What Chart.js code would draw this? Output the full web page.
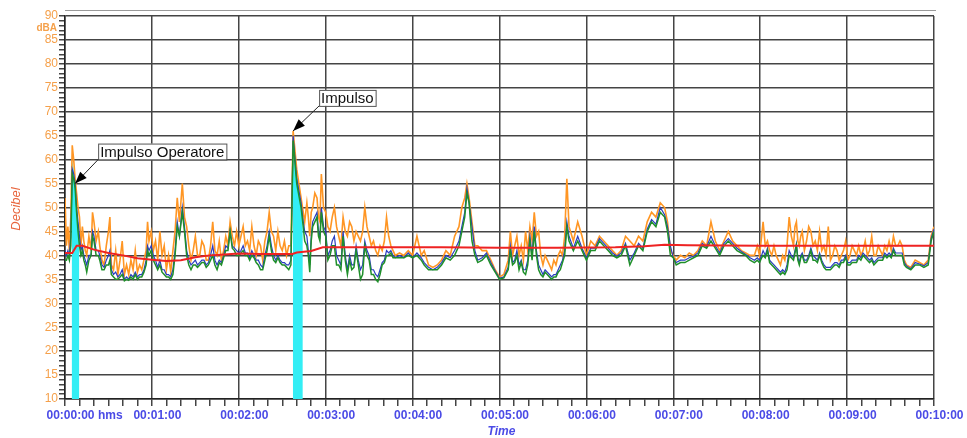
<!DOCTYPE html>
<html>
<head>
<meta charset="utf-8">
<script src="https://cdn.jsdelivr.net/npm/chart.js@4.4.1/dist/chart.umd.min.js"></script>
<style>
  body { margin: 0; background: #fff; }
  #wrap { width: 967px; height: 438px; position: relative; }
</style>
</head>
<body>
<div id="wrap"><canvas id="myChart"></canvas></div>
<script>
// Sound level over 10 minutes (seconds, dB)

const times = [
    0, 1, 2, 3, 4, 5, 6, 7, 8, 9, 10, 11, 12, 13, 14, 15, 16.5, 18, 19, 20, 21.5, 23, 24, 25.5, 27, 28.5, 30, 31, 32, 33.5,
    35, 36.5, 38, 39.5, 41, 42.5, 44, 45.5, 47, 48.5, 50, 51.5, 53, 54.5, 56, 57, 58, 59.5, 61, 62.5,
    64, 65.5, 67, 68.5, 70, 71.5, 73, 74.5, 76, 77.5, 79, 81,
    82.5, 84, 85.5, 87, 88.5, 90, 91.5, 93, 94.5, 96, 97.5, 99, 100.5, 102, 103.5, 105, 106.5, 108, 109.5, 111,
    112.5, 114, 115.5, 117, 118.5, 120, 121.5, 123, 124.5, 126, 127.5, 129, 130.5, 132, 133.5, 135, 136.5, 138, 139.5, 141,
    142.5, 144, 145.5, 147, 148.5, 150, 151.5, 153, 154.5, 156, 157.5,
    160, 163, 164.5, 165.5, 167, 168, 169, 170, 171, 172.5, 174, 175, 176, 177, 178.5, 180, 181.5, 183, 184.5, 186,
    187.5, 189, 190.5, 192, 193.5, 195, 196.5, 198, 199.5, 201, 202.5, 204, 205.5, 207, 208.5, 210, 211.5, 213, 214.5, 216,
    217.5, 219, 220.5, 222, 223.5, 225, 226.5,
    228, 231, 234, 237, 240, 243, 246, 248, 251, 254, 257, 260, 263, 266, 269, 272, 274, 276, 277.5, 279,
    281, 283, 285, 288, 291, 294, 297, 300, 303, 306, 307.5, 309, 310.5, 312, 313.5, 315, 316.5, 318, 319.5, 321,
    322.5, 324, 325.5, 327, 328.5, 330, 331.5, 333, 334.5, 336, 337.5, 339, 340.5, 342, 343.5, 345, 346.5, 348, 351, 354,
    357, 360, 363, 366, 369, 372, 375, 378, 381, 384, 387, 390, 393, 396, 399, 402, 405, 408, 411, 414,
    416, 418, 420, 422, 425, 428, 431, 434, 437, 440, 443, 446, 449, 452, 455, 458, 461, 464, 467, 470, 473, 476,
    478, 479.5, 481, 482, 483.5, 485, 486.5, 488, 489.5, 491, 492.5, 494, 495.5, 497, 498.5, 500, 501.5, 503, 504, 505,
    506, 507, 508, 509, 510.5, 512, 513.5, 515, 516.5, 518, 519.5, 521, 522.5, 524, 525.5, 527, 528.5, 530, 531.5, 533,
    534.5, 536, 537.5, 539, 540.5, 542, 543.5, 545, 546.5, 548, 549.5, 551, 552.5, 554, 555.5, 557, 558.5, 560, 561.5, 563,
    564.5, 566, 567.5, 569, 570.5, 572, 573.5, 575, 576.5, 578, 579.5, 581, 584, 587, 590, 593, 596, 598, 600
];

const orangeDb = [
    52, 42, 46, 41, 48, 63, 60, 56, 53, 50, 48, 42, 46, 43, 41, 40, 44, 41, 49, 47, 43, 45, 42, 39, 38, 42, 45, 48, 38, 37,
    41, 36, 39, 43, 36, 38, 36, 39, 37, 41, 36.5, 38, 37, 39, 41, 47, 43, 45, 41, 43,
    39, 45, 40, 42, 37, 40, 36.5, 41, 45, 52, 47, 55,
    48, 46, 42, 39, 41, 44, 40, 40, 43, 42, 39, 39, 42, 47, 41, 40, 43, 39, 41, 44,
    42, 47, 44, 42, 45, 42, 44, 46, 42, 43, 41, 46, 42, 40, 43, 42, 39, 43, 45, 49,
    45, 44, 41, 45, 42, 41, 43, 40, 42, 42, 66,
    58, 52, 49, 47, 51, 48, 44, 49, 50, 53, 52, 48, 47, 57, 50, 49, 46, 45, 48, 50,
    46, 44, 42, 48, 45, 44, 47, 46, 43, 45, 44, 43, 45, 50, 46, 44, 42, 43, 41, 40,
    42, 41, 43, 48, 44, 42, 41,
    40, 40.5, 40, 41, 40, 44, 40, 41, 38, 37.5, 38, 39, 41, 40, 44, 46, 50, 52, 55, 52,
    47, 42, 42, 41, 41, 39, 37, 35.5, 36, 39, 45, 40, 42, 44, 40, 42, 39, 45, 41, 46,
    43, 49, 44, 45, 40, 38, 40, 39, 38, 37, 39, 38, 40, 41, 40, 44, 56, 46, 43, 47,
    44, 40, 43, 42, 44, 43, 42, 41, 40, 41, 44, 43, 42, 44, 43, 47, 49, 48, 51, 50,
    47, 41, 40, 39, 40, 39.5, 40.5, 40, 41, 43, 42, 47, 43, 41, 43, 45, 43, 42, 41, 40.5, 40, 40,
    42, 40, 44, 47, 42, 43, 41, 40, 42, 40, 39, 38, 40, 39, 42, 48, 44, 42, 46, 47,
    43, 42, 44, 45, 41, 43, 46, 45, 42, 43, 41, 45, 41, 42, 40, 46, 39, 40, 42, 41,
    39, 40, 41, 43, 39, 40, 42, 41, 40, 42, 40, 41, 43, 40, 41, 44, 40, 40, 42, 41,
    40, 42, 41, 43, 41, 44, 42, 42, 43, 42, 39, 38, 37.5, 39, 38.5, 38, 39, 44, 46
];

const blueDb = [
    41, 40, 41, 40, 44, 58, 57, 55, 50, 47, 44, 41, 42, 40, 39, 38, 40, 40, 45, 44, 41, 41, 40, 38, 37.5, 39, 40, 41, 37, 36,
    36.5, 35.5, 36, 37, 35, 35.5, 35, 36, 35.5, 36.5, 35.5, 36, 36, 37, 39, 42, 41, 42, 40, 39,
    37.5, 39, 37, 37, 36, 36, 35.5, 37, 41, 47, 44, 50,
    46, 41, 39, 38, 38.5, 39, 38, 38.5, 39, 39, 38, 38.5, 40, 42, 39, 38, 39, 38.5, 40, 42,
    41.5, 45, 42, 41.5, 41, 40.5, 41, 42, 40.5, 40.5, 39.5, 41, 40, 39, 39, 38, 37.5, 40, 42, 45,
    42, 40, 39, 40, 39, 38.5, 38.5, 38, 38, 39, 65,
    56, 51, 47, 45, 44, 41, 38, 44, 47, 48, 49, 45, 44, 50, 46, 45, 40, 41, 43, 44,
    40, 39, 38, 45, 40, 37, 40, 38, 38, 42, 39, 37, 38, 43, 41, 40, 37, 37, 36, 35.5,
    37, 38.5, 39, 41, 40.5, 41, 40,
    39.5, 40, 39.5, 40.5, 39.5, 40.5, 39.5, 38.5, 37.5, 37, 37.5, 38.5, 40, 39.5, 41, 43, 46, 49, 54, 51,
    46, 41, 39, 39.5, 40.5, 38.5, 36.8, 35.2, 35.5, 37.5, 42, 38.5, 39, 41, 38, 39, 37, 37, 39, 44,
    40, 46, 41, 38, 37, 36, 37, 36.5, 36, 35.5, 36, 36, 37, 38, 39, 41, 47, 44, 41.5, 44,
    41.5, 39.5, 41.5, 41.5, 43.5, 42.5, 41.5, 40.5, 39.8, 40.5, 42.5, 39, 40.5, 42.5, 41.5, 45.5, 47.5, 46.5, 50, 48.5,
    46, 42, 39.5, 38.5, 39, 39, 39.5, 39.8, 40.5, 42.5, 41.8, 44, 42, 40.5, 42.5, 43.5, 42.5, 41.5, 40.8, 40.2, 39.5, 39,
    39.5, 39, 40, 41, 40, 41.5, 39, 38.5, 38, 37.5, 37, 36.5, 37, 36.5, 38, 41, 40, 39.5, 41, 42.5,
    39.5, 38.5, 40, 40.5, 39, 39, 40, 41.5, 40, 39.5, 39, 40.5, 39, 38, 37.5, 37.5, 37.5, 38, 38.5, 38.5,
    38, 39, 39, 40, 38.5, 38.5, 39, 39, 39, 40, 39.5, 40.5, 40, 39.5, 39, 39.5, 38.5, 39, 39.5, 39.5,
    39.5, 40.5, 40, 40.5, 40, 41.5, 40.5, 40.5, 40.5, 40.5, 38.5, 37.8, 37.2, 38.5, 38.2, 37.8, 38.5, 43.5, 45.5
];

const greenDb = [
    39, 39, 40, 39, 42, 57, 56, 54, 49, 45, 42, 40, 41, 39, 38, 36.5, 39, 40, 44, 43, 40, 40, 39, 37, 37, 38, 38, 39, 36, 35.5,
    35, 35, 35.5, 36, 34.7, 35, 34.8, 35.5, 35, 36, 35, 35.5, 35.5, 36.5, 38, 41, 40, 41, 39, 38,
    37, 38, 36.5, 36, 35.5, 35.5, 35, 36, 40, 46, 44, 49,
    45, 40, 38, 37, 38, 38, 37.5, 38, 38.5, 38.5, 37.5, 38, 39, 40, 38, 37, 38.5, 38, 39.5, 41,
    41, 45, 41.5, 41, 40, 40, 40.5, 41, 40, 40, 39, 40, 39.5, 38.5, 38, 37, 37, 39, 41, 44,
    41, 39, 38.5, 39.5, 38.5, 38, 38, 37.5, 37, 38, 64,
    55, 50, 46, 43, 42, 40, 36.5, 43, 46, 47, 48, 44, 43, 49, 45, 44, 39, 40, 42, 42,
    38, 38, 37, 44, 39, 36, 39, 37, 37.5, 41, 38, 35, 36, 42, 40, 39, 36, 36, 35, 34.5,
    36, 38, 38.5, 40, 40, 40.5, 39.5,
    39.5, 39.5, 39.5, 40, 39.5, 40, 39, 38, 37, 37, 37, 38, 39.5, 39, 40, 42, 45, 48, 53, 51,
    43, 40, 38.5, 39, 40, 38, 36.5, 35, 35.3, 37, 41, 38, 38.5, 40, 37, 38.5, 36.5, 36, 38, 43,
    39, 45, 40, 37, 36, 35.5, 36.5, 36, 35.5, 35, 35.5, 35.5, 36.5, 37, 38.5, 40, 46, 43, 41, 43,
    41, 39, 41, 41, 43, 42, 41, 40, 39.5, 40, 42, 38, 40, 42, 41, 45, 47, 46, 49, 48,
    45, 40, 39.5, 38, 38.5, 38.5, 39, 39.5, 40, 42, 41.5, 43, 41.5, 40, 42, 43, 42, 41, 40.5, 40, 39, 38.5,
    39, 38.5, 39.5, 40, 39.5, 41, 38.5, 38, 37.5, 37, 36.5, 36, 36.5, 36, 37, 40, 39.5, 39, 40.5, 42,
    39, 38, 39.5, 40, 38.5, 38.5, 39.5, 41, 39, 39, 38.5, 40, 38.5, 37.5, 37, 37, 37, 37.5, 38, 38,
    37.5, 38.5, 38.5, 39.5, 38, 38, 38.5, 38.5, 38.5, 39.5, 39, 40, 39.5, 39, 38.5, 39, 38, 38.5, 39, 39,
    39, 40, 39.5, 40, 39.5, 41, 40, 40, 40, 40, 38, 37.5, 37, 38, 38, 37.5, 38, 43, 45
];

// running Leq (red)
const leqTimes = [0, 5, 8, 12, 20, 30, 40, 50, 60, 70, 80, 90, 100, 110, 120, 135, 150, 157, 160, 170, 178, 190,
    220, 260, 300, 340, 380, 400, 414, 430, 480, 540, 600];
const leqDb = [40.5, 40.5, 42, 42, 41.2, 40.5, 40, 39.4, 39.1, 38.8, 39, 39.6, 40, 40.2, 40.4, 40.3, 40.3, 40.3,
    40.6, 40.9, 41.7, 41.7, 41.7, 41.7, 41.6, 41.6, 41.7, 41.9, 42.2, 42.1, 42, 42, 42];

// marked impulses (cyan)
const impulse1Times = [4.6, 5, 6, 7, 8, 9, 9.9];
const impulse1Db = [50, 60, 58, 55, 51, 47, 45];
const impulse2Times = [157.3, 157.5, 159, 160.5, 162, 163, 164.2];
const impulse2Db = [60, 66, 61, 57, 53, 50, 47];

// callouts
const notes = [
    { t: 7, db: 55, text: 'Impulso Operatore', dx: 23, dy: -24 },
    { t: 157.5, db: 66, text: 'Impulso', dx: 26, dy: -25 }
];

if (orangeDb.length !== times.length || blueDb.length !== times.length || greenDb.length !== times.length) {
    throw new Error('length mismatch ' + times.length + ' ' + orangeDb.length + ' ' + blueDb.length + ' ' + greenDb.length);
}

const FONT = '"Liberation Sans", Arial, sans-serif';
const ORANGE_TXT = '#f5a04a';
const BLUE_TXT = '#4b4be6';

function pts(xs, ys) {
    return xs.map((t, i) => ({ x: t, y: ys[i] }));
}

function hms(v) {
    const m = Math.round(v / 60);
    return '00:' + (m < 10 ? '0' + m : m) + ':00';
}

const overlay = {
    id: 'overlay',
    afterDraw(chart) {
        const { ctx, chartArea: a, scales: { x, y } } = chart;
        ctx.save();
        // thin line above the plot
        ctx.strokeStyle = '#9a9a9a';
        ctx.lineWidth = 1;
        ctx.beginPath();
        ctx.moveTo(a.left, a.top - 5.5);
        ctx.lineTo(a.right + 2, a.top - 5.5);
        ctx.stroke();

        // unit under the top label
        ctx.fillStyle = ORANGE_TXT;
        ctx.font = 'bold 10px ' + FONT;
        ctx.textAlign = 'right';
        ctx.textBaseline = 'middle';
        ctx.fillText('dBA', a.left - 8, a.top + 12);

        // "hms" after first time label
        ctx.fillStyle = BLUE_TXT;
        ctx.font = 'bold 12px ' + FONT;
        ctx.textAlign = 'left';
        ctx.fillText('hms', x.getPixelForValue(0) + 33, 416);

        // axis titles
        ctx.font = 'italic bold 12px ' + FONT;
        ctx.textAlign = 'center';
        ctx.fillText('Time', (a.left + a.right) / 2 + 2, 432);
        ctx.save();
        ctx.translate(16, 209);
        ctx.rotate(-Math.PI / 2);
        ctx.fillStyle = '#e8643c';
        ctx.font = 'italic 13px ' + FONT;
        ctx.fillText('Decibel', 0, 0);
        ctx.restore();

        // callouts with arrows
        ctx.font = '15px ' + FONT;
        ctx.textAlign = 'left';
        notes.forEach(n => {
            const px = x.getPixelForValue(n.t);
            const py = y.getPixelForValue(n.db);
            const bx = px + n.dx;
            const by = py + n.dy;
            const w = ctx.measureText(n.text).width + 4;
            const h = 16;
            ctx.fillStyle = '#fff';
            ctx.fillRect(bx, by - h, w, h);
            ctx.strokeStyle = '#555';
            ctx.lineWidth = 1;
            ctx.strokeRect(bx + 0.5, by - h + 0.5, w, h);
            ctx.fillStyle = '#111';
            ctx.fillText(n.text, bx + 2, by - h / 2 + 1);
            // arrow
            const ang = Math.atan2(py - by, px - bx);
            ctx.strokeStyle = '#222';
            ctx.beginPath();
            ctx.moveTo(bx, by);
            ctx.lineTo(px, py);
            ctx.stroke();
            ctx.fillStyle = '#000';
            ctx.beginPath();
            ctx.moveTo(px, py);
            ctx.lineTo(px - 12 * Math.cos(ang) + 4.5 * Math.sin(ang), py - 12 * Math.sin(ang) - 4.5 * Math.cos(ang));
            ctx.lineTo(px - 12 * Math.cos(ang) - 4.5 * Math.sin(ang), py - 12 * Math.sin(ang) + 4.5 * Math.cos(ang));
            ctx.closePath();
            ctx.fill();
        });
        ctx.restore();
    }
};

const ctx = document.getElementById('myChart');
const myChart = new Chart(ctx, {
    type: 'line',
    data: {
        datasets: [{
            label: 'Leq',
            data: pts(leqTimes, leqDb),
            borderColor: '#ee2222',
            borderWidth: 2,
            order: 0
        },
        {
            label: 'Fast',
            data: pts(times, greenDb),
            borderColor: '#1f8f2a',
            borderWidth: 1.5,
            order: 1
        },
        {
            label: 'Slow',
            data: pts(times, blueDb),
            borderColor: '#2a3cc0',
            borderWidth: 1.2,
            order: 2
        },
        {
            label: 'Impulse',
            data: pts(times, orangeDb),
            borderColor: '#ff9624',
            borderWidth: 1.6,
            order: 3
        },
        {
            label: 'Impulso 1',
            data: pts(impulse1Times, impulse1Db),
            borderWidth: 0,
            backgroundColor: '#33eef5',
            fill: 'start',
            order: 4
        },
        {
            label: 'Impulso 2',
            data: pts(impulse2Times, impulse2Db),
            borderWidth: 0,
            backgroundColor: '#33eef5',
            fill: 'start',
            order: 4
        }]
    },
    options: {
        responsive: true,
        maintainAspectRatio: false,
        animation: false,
        elements: {
            point: { radius: 0 },
            line: { tension: 0 }
        },
        layout: {
            padding: { top: 16, right: 33, left: 0, bottom: 0 }
        },
        scales: {
            x: {
                type: 'linear',
                min: 0,
                max: 600,
                afterFit: s => { s.height = 39; },
                ticks: {
                    stepSize: 10,
                    autoSkip: false,
                    maxRotation: 0,
                    minRotation: 0,
                    labelOffset: 5.5,
                    padding: 2,
                    color: BLUE_TXT,
                    font: { family: FONT, size: 12, weight: 'bold' },
                    callback: v => v % 60 === 0 ? hms(v) : ''
                },
                grid: {
                    color: c => c.tick && c.tick.value % 60 === 0 ? '#444' : 'rgba(0,0,0,0)',
                    lineWidth: 1.5,
                    tickColor: '#444',
                    tickLength: 7
                },
                border: { color: '#222', width: 1.5 }
            },
            y: {
                min: 10,
                max: 90,
                afterFit: s => { s.width = 65; },
                ticks: {
                    stepSize: 1,
                    autoSkip: false,
                    padding: 1,
                    color: ORANGE_TXT,
                    font: { family: FONT, size: 12 },
                    callback: v => v % 5 === 0 ? v : ''
                },
                grid: {
                    color: c => c.tick && c.tick.value % 5 === 0 ? '#444' : 'rgba(0,0,0,0)',
                    lineWidth: 1.5,
                    tickColor: '#444',
                    tickLength: 6
                },
                border: { color: '#222', width: 1.5 }
            }
        },
        plugins: {
            legend: { display: false },
            tooltip: { enabled: false }
        }
    },
    plugins: [overlay]
});
</script>
</body>
</html>
